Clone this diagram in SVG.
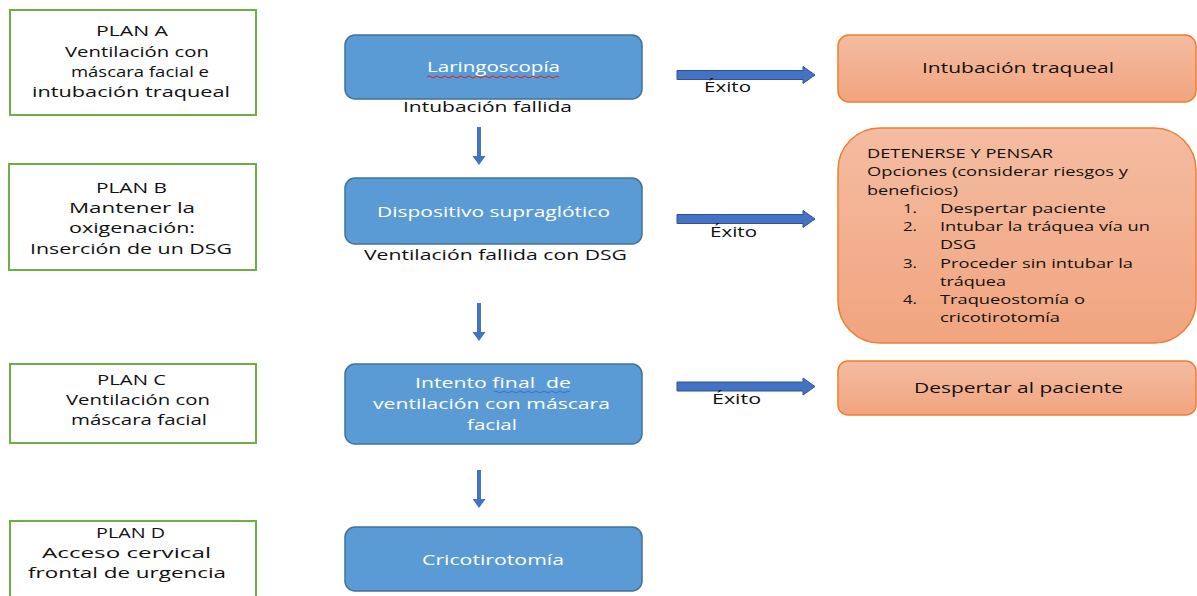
<svg xmlns="http://www.w3.org/2000/svg" width="1197" height="596" viewBox="0 0 1197 596">
<style>
text{font-family:"Open Sans","Liberation Sans",sans-serif;font-size:15px;font-weight:500;fill:#111;}
.w{fill:#fff;}
.sm{font-size:12.5px;}
.plan{fill:#fff;stroke:#70AD47;stroke-width:2;}
.blue{fill:#5B9BD5;stroke:#41719C;stroke-width:1.5;}
.orange{fill:url(#og);stroke:#ED7D31;stroke-width:1.5;}
.ra{fill:#4472C4;stroke:#2F528F;stroke-width:1;}
.da{fill:#4472C4;}
</style>
<defs>
<linearGradient id="og" x1="0" y1="0" x2="0" y2="1">
<stop offset="0" stop-color="#F4BCA1"/>
<stop offset="1" stop-color="#F1A47F"/>
</linearGradient>
<path id="rarrow" d="M0,-4.5 H126 V-8.5 L138,0 L126,8.5 V4.5 H0 Z"/>
<path id="darrow" d="M-2,0 V29 H-6.5 L0,38 L6.5,29 H2 V0 Z"/>
</defs>
<rect width="1197" height="596" fill="#fff"/>

<g id="planA">
<rect class="plan" x="10" y="10" width="246" height="105"/>
<text x="96" y="36" textLength="72" lengthAdjust="spacingAndGlyphs">PLAN A</text>
<text x="65" y="57" textLength="144" lengthAdjust="spacingAndGlyphs">Ventilación con</text>
<text x="71" y="77" textLength="138" lengthAdjust="spacingAndGlyphs">máscara facial e</text>
<text x="32" y="97" textLength="198" lengthAdjust="spacingAndGlyphs">intubación traqueal</text>
</g>
<g id="planB">
<rect class="plan" x="9" y="164" width="247" height="106"/>
<text x="96" y="193" textLength="71" lengthAdjust="spacingAndGlyphs">PLAN B</text>
<text x="69" y="213" textLength="126" lengthAdjust="spacingAndGlyphs">Mantener la</text>
<text x="69" y="233" textLength="126" lengthAdjust="spacingAndGlyphs">oxigenación:</text>
<text x="30" y="254" textLength="202" lengthAdjust="spacingAndGlyphs">Inserción de un DSG</text>
</g>
<g id="planC">
<rect class="plan" x="10" y="364" width="246" height="79"/>
<text x="97" y="385" textLength="69" lengthAdjust="spacingAndGlyphs">PLAN C</text>
<text x="66" y="405" textLength="144" lengthAdjust="spacingAndGlyphs">Ventilación con</text>
<text x="71" y="425" textLength="136" lengthAdjust="spacingAndGlyphs">máscara facial</text>
</g>
<g id="planD">
<rect class="plan" x="10" y="521" width="246" height="90"/>
<text x="96" y="538" textLength="69" lengthAdjust="spacingAndGlyphs">PLAN D</text>
<text x="42" y="558" textLength="169" lengthAdjust="spacingAndGlyphs">Acceso cervical</text>
<text x="28" y="578" textLength="198" lengthAdjust="spacingAndGlyphs">frontal de urgencia</text>
</g>

<g id="laringoscopia">
<rect class="blue" x="345" y="35" width="297" height="64" rx="10"/>
<text class="w" x="427" y="72" textLength="133" lengthAdjust="spacingAndGlyphs">Laringoscopía</text>
<path d="M427,77 q2,-2 4,0 t4,0 t4,0 t4,0 t4,0 t4,0 t4,0 t4,0 t4,0 t4,0 t4,0 t4,0 t4,0 t4,0 t4,0 t4,0 t4,0 t4,0 t4,0 t4,0 t4,0 t4,0 t4,0 t4,0 t4,0 t4,0 t4,0 t4,0 t4,0 t4,0 t4,0 t4,0 t4,0" fill="none" stroke="#E02020" stroke-width="1"/>
</g>
<g id="dispositivo">
<rect class="blue" x="345" y="178" width="297" height="66" rx="10"/>
<text class="w" x="377" y="217" textLength="233" lengthAdjust="spacingAndGlyphs">Dispositivo supraglótico</text>
</g>
<g id="intento">
<rect class="blue" x="345" y="364" width="297" height="80" rx="10"/>
<text class="w" x="415" y="388" textLength="156" lengthAdjust="spacingAndGlyphs" style="white-space:pre">Intento final  de</text>
<path d="M494,392 q2,-2 4,0 t4,0 t4,0 t4,0 t4,0 t4,0 t4,0 t4,0 t4,0 t4,0 t4,0 t4,0 t4,0 t4,0 t4,0 t4,0 t4,0 t4,0 t4,0" fill="none" stroke="#3A6FD8" stroke-width="1"/>
<text class="w" x="373" y="409" textLength="237" lengthAdjust="spacingAndGlyphs">ventilación con máscara</text>
<text class="w" x="467" y="430" textLength="50" lengthAdjust="spacingAndGlyphs">facial</text>
</g>
<g id="cricotirotomia">
<rect class="blue" x="345" y="527" width="297" height="64" rx="10"/>
<text class="w" x="422" y="565" textLength="142" lengthAdjust="spacingAndGlyphs">Cricotirotomía</text>
</g>

<g id="intubacion">
<rect class="orange" x="838" y="35" width="358" height="67" rx="11"/>
<text x="922" y="73" textLength="192" lengthAdjust="spacingAndGlyphs">Intubación traqueal</text>
</g>
<g id="detenerse">
<rect class="orange" x="838" y="128" width="358" height="215" rx="42"/>
<text class="sm" x="867" y="158" textLength="186" lengthAdjust="spacingAndGlyphs">DETENERSE Y PENSAR</text>
<text class="sm" x="867" y="176" textLength="261" lengthAdjust="spacingAndGlyphs">Opciones (considerar riesgos y</text>
<text class="sm" x="867" y="195" textLength="91" lengthAdjust="spacingAndGlyphs">beneficios)</text>
<text class="sm" x="903" y="213" textLength="14" lengthAdjust="spacingAndGlyphs">1.</text>
<text class="sm" x="940" y="213" textLength="166" lengthAdjust="spacingAndGlyphs">Despertar paciente</text>
<text class="sm" x="903" y="231" textLength="14" lengthAdjust="spacingAndGlyphs">2.</text>
<text class="sm" x="940" y="231" textLength="210" lengthAdjust="spacingAndGlyphs">Intubar la tráquea vía un</text>
<text class="sm" x="940" y="249" textLength="36" lengthAdjust="spacingAndGlyphs">DSG</text>
<text class="sm" x="903" y="268" textLength="14" lengthAdjust="spacingAndGlyphs">3.</text>
<text class="sm" x="940" y="268" textLength="193" lengthAdjust="spacingAndGlyphs">Proceder sin intubar la</text>
<text class="sm" x="940" y="286" textLength="66" lengthAdjust="spacingAndGlyphs">tráquea</text>
<text class="sm" x="903" y="304" textLength="14" lengthAdjust="spacingAndGlyphs">4.</text>
<text class="sm" x="940" y="304" textLength="145" lengthAdjust="spacingAndGlyphs">Traqueostomía o</text>
<text class="sm" x="940" y="322" textLength="120" lengthAdjust="spacingAndGlyphs">cricotirotomía</text>
</g>
<g id="despertar">
<rect class="orange" x="838" y="361" width="358" height="54" rx="10"/>
<text x="914" y="393" textLength="209" lengthAdjust="spacingAndGlyphs">Despertar al paciente</text>
</g>

<g id="connectors">
<use href="#rarrow" class="ra" x="677" y="75"/>
<use href="#rarrow" class="ra" x="677" y="219"/>
<use href="#rarrow" class="ra" x="677" y="386.5"/>
<use href="#darrow" class="da" x="479" y="127"/>
<use href="#darrow" class="da" x="479" y="303"/>
<use href="#darrow" class="da" x="479" y="470"/>
<text x="403" y="112" textLength="169" lengthAdjust="spacingAndGlyphs">Intubación fallida</text>
<text x="364" y="260" textLength="263" lengthAdjust="spacingAndGlyphs">Ventilación fallida con DSG</text>
<text x="704" y="92" textLength="47" lengthAdjust="spacingAndGlyphs">Éxito</text>
<text x="710" y="237" textLength="47" lengthAdjust="spacingAndGlyphs">Éxito</text>
<text x="712" y="404" textLength="49" lengthAdjust="spacingAndGlyphs">Éxito</text>
</g>
</svg>
